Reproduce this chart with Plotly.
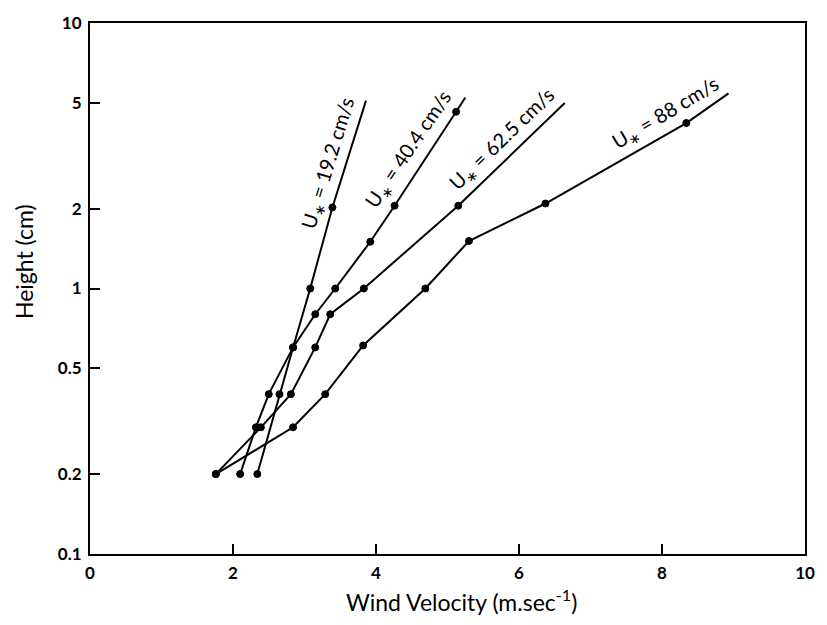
import plotly.graph_objects as go

# Series data: wind velocity (m/s) vs height (cm). Last point of each is the line end (no marker).
u192_x = [2.34, 2.65, 2.84, 3.08, 3.39, 3.86]
u192_y = [0.2, 0.4, 0.6, 1.0, 2.02, 5.1]

u404_x = [2.10, 2.32, 2.50, 2.84, 3.15, 3.43, 3.92, 4.26, 5.12, 5.25]
u404_y = [0.2, 0.3, 0.4, 0.6, 0.8, 1.0, 1.5, 2.05, 4.63, 5.24]

u625_x = [1.76, 2.39, 2.81, 3.15, 3.36, 3.83, 5.15, 6.64]
u625_y = [0.2, 0.3, 0.4, 0.6, 0.8, 1.0, 2.05, 5.0]

u88_x = [1.76, 2.84, 3.29, 3.82, 4.69, 5.30, 6.37, 8.34, 8.93]
u88_y = [0.2, 0.3, 0.4, 0.61, 1.0, 1.51, 2.09, 4.2, 5.43]

labels = ["U<sub>∗</sub> = 19.2 cm/s", "U<sub>∗</sub> = 40.4 cm/s",
          "U<sub>∗</sub> = 62.5 cm/s", "U<sub>∗</sub> = 88 cm/s"]

x_ticks = [0, 2, 4, 6, 8, 10]
y_ticks = [0.1, 0.2, 0.5, 1, 2, 5, 10]
y_ticklabels = ["0.1", "0.2", "0.5", "1", "2", "5", "10"]

FONT = "Lato"

fig = go.Figure()
for xs, ys in [(u192_x, u192_y), (u404_x, u404_y), (u625_x, u625_y), (u88_x, u88_y)]:
    sizes = [7] * (len(xs) - 1) + [0]
    widths = [1] * (len(xs) - 1) + [0]
    fig.add_trace(go.Scatter(
        x=xs, y=ys, mode="lines+markers",
        line=dict(color="black", width=2),
        marker=dict(color="black", size=sizes, opacity=1,
                    line=dict(width=widths, color="black")),
        showlegend=False, hoverinfo="skip"))

# label positions (x data, log10 y) and angles
label_pos = [(3.33, 0.472, -73), (4.46, 0.522, -56), (5.76, 0.562, -44), (8.05, 0.658, -31)]
for txt, (lx, ly, ang) in zip(labels, label_pos):
    fig.add_annotation(x=lx, y=ly, xref="x", yref="y", text=txt, showarrow=False,
                       textangle=ang, font=dict(family=FONT, size=20, color="black"))

fig.add_annotation(x=-0.0914, y=0.551, xref="paper", yref="paper", text="Height (cm)",
                   showarrow=False, textangle=-90, xanchor="center", yanchor="middle",
                   font=dict(family=FONT, size=23, color="black"))
fig.add_annotation(x=0.519, y=-0.087, xref="paper", yref="paper",
                   text="Wind Velocity (m.sec<sup>-1</sup>)", showarrow=False,
                   xanchor="center", yanchor="middle",
                   font=dict(family=FONT, size=23, color="black"))

fig.update_layout(
    width=827, height=625,
    margin=dict(l=90, r=15, t=17, b=71),
    paper_bgcolor="white", plot_bgcolor="white",
    xaxis=dict(range=[0, 10], tickvals=x_ticks, ticks="inside", ticklen=10, tickwidth=2,
               tickcolor="black", showline=True, linecolor="black", linewidth=2, mirror=True,
               showgrid=False, zeroline=False, ticklabelstandoff=3,
               tickfont=dict(family=FONT, size=17, color="black", weight="bold")),
    yaxis=dict(type="log", range=[-1, 1], tickvals=y_ticks, ticktext=y_ticklabels,
               ticks="inside", ticklen=10, tickwidth=2, tickcolor="black",
               showline=True, linecolor="black", linewidth=2, mirror=True,
               showgrid=False, zeroline=False, ticklabelstandoff=3,
               tickfont=dict(family=FONT, size=17, color="black", weight="bold")),
)

fig.write_html("out.html")
